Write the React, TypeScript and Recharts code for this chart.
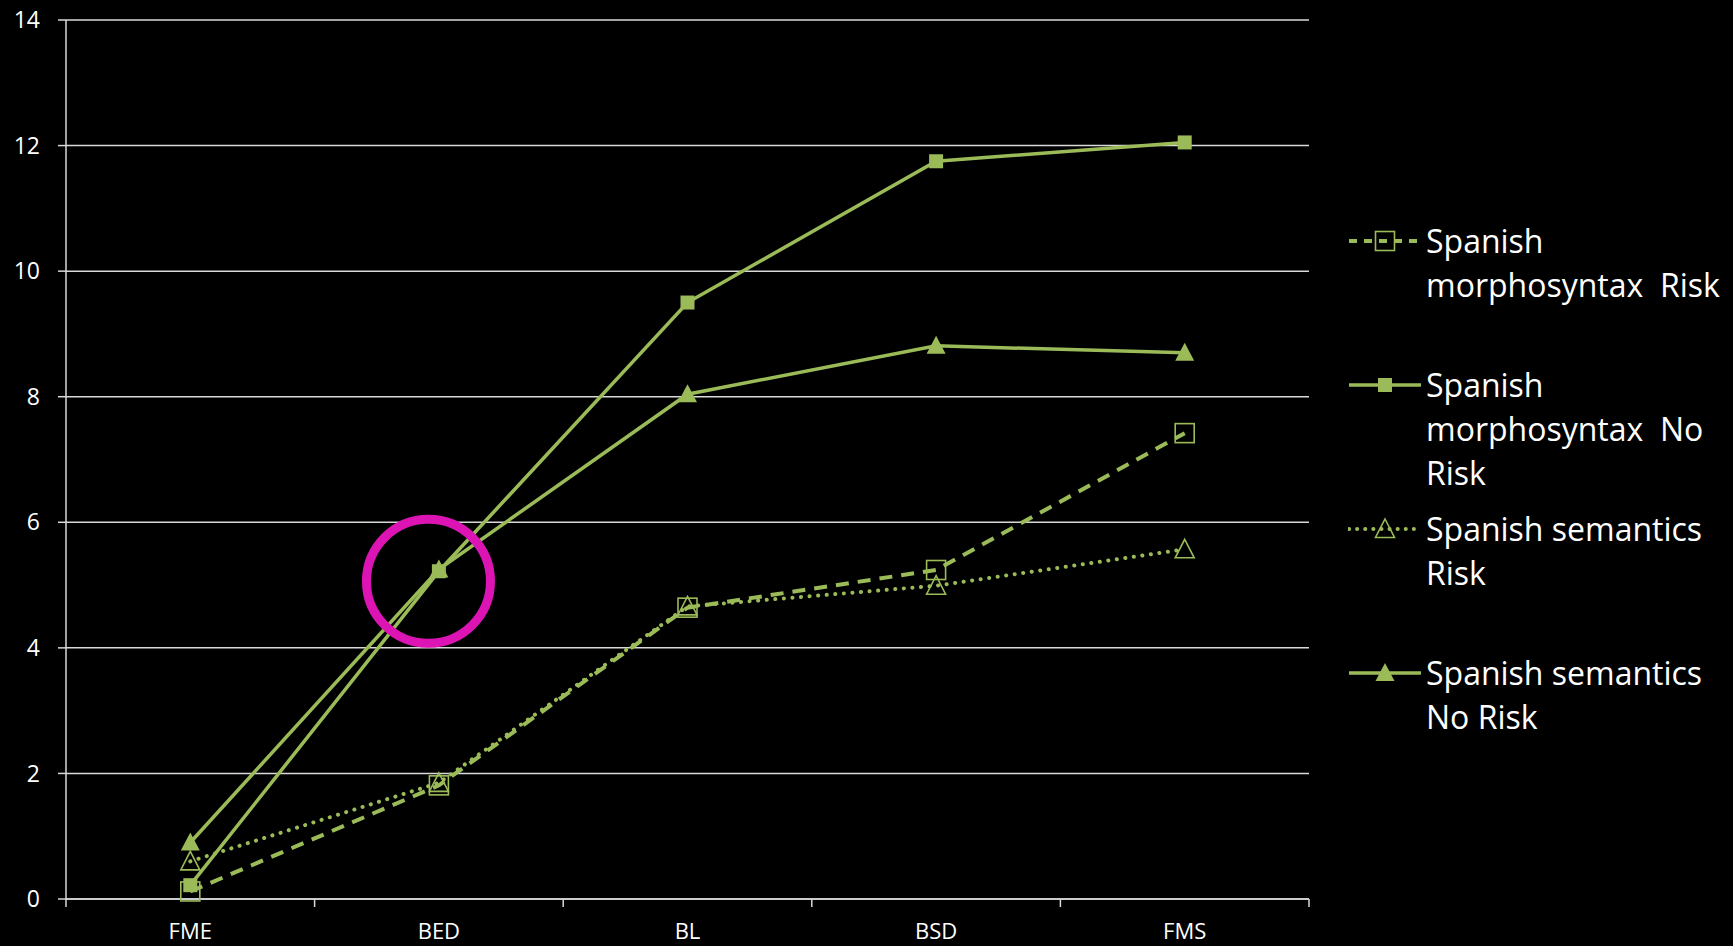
import React from 'react';
import {
  LineChart,
  Line,
  XAxis,
  YAxis,
  CartesianGrid,
  Legend,
  ReferenceDot,
} from 'recharts';

// Assessment points along the x axis
const categories = ['FME', 'BED', 'BL', 'BSD', 'FMS'];

// Mean scores per assessment point
const morphRisk = [0.12, 1.81, 4.64, 5.24, 7.42];
const morphNoRisk = [0.22, 5.22, 9.5, 11.75, 12.05];
const semRisk = [0.6, 1.85, 4.66, 4.99, 5.57];
const semNoRisk = [0.9, 5.25, 8.04, 8.81, 8.7];

const yTicks = [0, 2, 4, 6, 8, 10, 12, 14];

// Highlighted point: BED, around the crossing of the two "No Risk" lines
const highlightX = 0.958;
const highlightY = 5.06;

const GREEN = '#9BBB59';
const GRID = '#D9D9D9';
const FONT = '"Open Sans", "Noto Sans", sans-serif';

type MarkerKind = 'openSquare' | 'filledSquare' | 'openTriangle' | 'filledTriangle';

interface SeriesDef {
  key: string;
  name: string;
  legendLines: string[];
  values: number[];
  marker: MarkerKind;
  width: number;
  dash?: string;
  cap?: 'round' | 'butt';
}

const series: SeriesDef[] = [
  {
    key: 'morphRisk',
    name: 'Spanish morphosyntax  Risk',
    legendLines: ['Spanish', 'morphosyntax  Risk'],
    values: morphRisk,
    marker: 'openSquare',
    width: 4,
    dash: '13 9',
  },
  {
    key: 'morphNoRisk',
    name: 'Spanish morphosyntax  No Risk',
    legendLines: ['Spanish', 'morphosyntax  No', 'Risk'],
    values: morphNoRisk,
    marker: 'filledSquare',
    width: 3.5,
  },
  {
    key: 'semRisk',
    name: 'Spanish semantics Risk',
    legendLines: ['Spanish semantics', 'Risk'],
    values: semRisk,
    marker: 'openTriangle',
    width: 4,
    dash: '0.1 8.5',
    cap: 'round',
  },
  {
    key: 'semNoRisk',
    name: 'Spanish semantics No Risk',
    legendLines: ['Spanish semantics', 'No Risk'],
    values: semNoRisk,
    marker: 'filledTriangle',
    width: 3.5,
  },
];

// Paint order: "Risk" lines underneath, "No Risk" lines on top
const drawOrder = ['morphRisk', 'semRisk', 'morphNoRisk', 'semNoRisk'];

const rows = categories.map((c, i) => {
  const row: Record<string, number | string> = { idx: i, cat: c };
  series.forEach((s) => {
    row[s.key] = s.values[i];
  });
  return row;
});

function markerShape(kind: MarkerKind, cx: number, cy: number, key?: string | number) {
  switch (kind) {
    case 'openSquare':
      return <rect key={key} x={cx - 9.5} y={cy - 9.5} width={19} height={19} fill="none" stroke={GREEN} strokeWidth={1.6} />;
    case 'filledSquare':
      return <rect key={key} x={cx - 7} y={cy - 7} width={14} height={14} fill={GREEN} stroke="none" />;
    case 'openTriangle':
      return (
        <polygon
          key={key}
          points={`${cx},${cy - 10} ${cx + 9.5},${cy + 8.5} ${cx - 9.5},${cy + 8.5}`}
          fill="none"
          stroke={GREEN}
          strokeWidth={1.6}
        />
      );
    case 'filledTriangle':
    default:
      return (
        <polygon
          key={key}
          points={`${cx},${cy - 10} ${cx + 9.5},${cy + 8} ${cx - 9.5},${cy + 8}`}
          fill={GREEN}
          stroke="none"
        />
      );
  }
}

const xTicks = [-0.5, 0, 0.5, 1, 1.5, 2, 2.5, 3, 3.5, 4, 4.5];

const XTick = (props: any) => {
  const { x, y, payload } = props;
  const v = payload.value as number;
  if (Number.isInteger(v)) {
    return (
      <text x={x} y={y + 24} dy="0.71em" textAnchor="middle" fill="#FFFFFF" fontSize={22} fontFamily={FONT}>
        {categories[v]}
      </text>
    );
  }
  return <line x1={x} x2={x} y1={y} y2={y + 8} stroke={GRID} strokeWidth={1.5} />;
};

const LegendContent = () => (
  <div style={{ position: 'relative', width: 385, height: 600, fontFamily: FONT }}>
    {series.map((s, i) => (
      <div key={s.key} style={{ position: 'absolute', left: 0, top: i * 144, display: 'flex' }}>
        <svg width={78} height={44} style={{ flex: 'none' }}>
          <line
            x1={1}
            x2={73}
            y1={22}
            y2={22}
            stroke={GREEN}
            strokeWidth={s.width}
            strokeDasharray={s.dash ? (s.cap === 'round' ? '0.1 8' : '8 7') : undefined}
            strokeLinecap={s.cap ?? 'butt'}
          />
          {markerShape(s.marker, 37, 22)}
        </svg>
        <div style={{ color: '#FFFFFF', fontSize: 32, lineHeight: '44px', whiteSpace: 'pre' }}>
          {s.legendLines.map((l) => (
            <div key={l}>{l}</div>
          ))}
        </div>
      </div>
    ))}
  </div>
);

export default function App() {
  const ordered = drawOrder.map((k) => series.find((s) => s.key === k) as SeriesDef);
  return (
    <div style={{ position: 'absolute', left: 0, top: 0, width: 1733, height: 946, background: '#000000' }}>
      <LineChart
        width={1733}
        height={946}
        data={rows}
        margin={{ top: 20, right: 424, bottom: 0, left: 0 }}
      >
        <CartesianGrid vertical={false} stroke={GRID} strokeWidth={1.5} />
        <XAxis
          dataKey="idx"
          type="number"
          domain={[-0.5, 4.5]}
          ticks={xTicks}
          interval={0}
          height={47}
          tickLine={false}
          tickSize={0}
          tickMargin={0}
          axisLine={{ stroke: GRID, strokeWidth: 1.5 }}
          tick={<XTick />}
        />
        <YAxis
          domain={[0, 14]}
          ticks={yTicks}
          interval={0}
          width={66}
          tickSize={8}
          tickMargin={18}
          tickLine={{ stroke: GRID, strokeWidth: 1.5 }}
          axisLine={{ stroke: GRID, strokeWidth: 1.5 }}
          tick={{ fill: '#FFFFFF', fontSize: 23, fontFamily: FONT }}
        />
        <Legend
          layout="horizontal"
          align="center"
          verticalAlign="middle"
          wrapperStyle={{ left: 1348, top: 219, width: 385, height: 600 }}
          content={<LegendContent />}
        />
        {ordered.map((s) => (
          <Line
            key={s.key}
            dataKey={s.key}
            name={s.name}
            type="linear"
            stroke={GREEN}
            strokeWidth={s.width}
            strokeDasharray={s.dash}
            strokeLinecap={s.cap ?? 'butt'}
            isAnimationActive={false}
            dot={(p: any) => markerShape(s.marker, p.cx, p.cy, `${s.key}-${p.index}`)}
            activeDot={false}
          />
        ))}
        <ReferenceDot
          x={highlightX}
          y={highlightY}
          r={62}
          fill="none"
          stroke="#DC14B4"
          strokeWidth={9}
          ifOverflow="visible"
        />
      </LineChart>
    </div>
  );
}
